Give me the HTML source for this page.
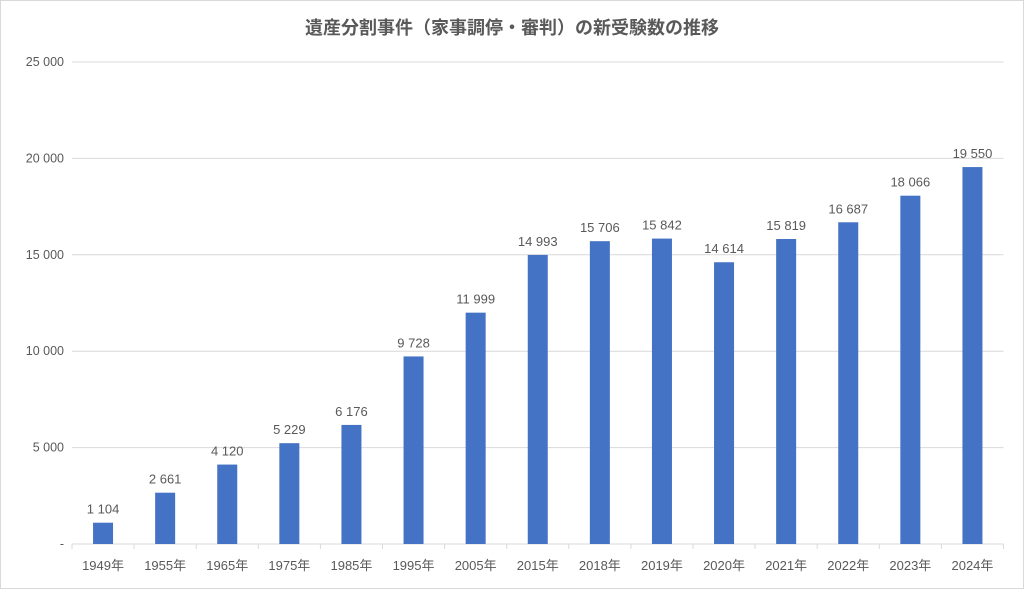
<!DOCTYPE html>
<html><head><meta charset="utf-8"><style>
html,body{margin:0;padding:0;background:#fff}
svg{display:block}
text{font-family:"Liberation Sans","Noto Sans CJK JP",sans-serif;fill:#595959}
</style></head><body>
<svg id="chart" width="1024" height="589" viewBox="0 0 1024 589" xmlns="http://www.w3.org/2000/svg">
<rect x="0.5" y="0.5" width="1023" height="588" fill="#fff" stroke="#d9d9d9"/>
<text x="512" y="34" text-anchor="middle" font-size="18" font-weight="bold">遺産分割事件（家事調停・審判）の新受験数の推移</text>
<g id="grid"></g><g id="bars"></g>
</svg>
<script>
const categories=["1949年","1955年","1965年","1975年","1985年","1995年","2005年","2015年","2018年","2019年","2020年","2021年","2022年","2023年","2024年"];
const values=[1104,2661,4120,5229,6176,9728,11999,14993,15706,15842,14614,15819,16687,18066,19550];
const yTicks=[0,5000,10000,15000,20000,25000];
const yTickLabels=["-","5 000","10 000","15 000","20 000","25 000"];
const ns="http://www.w3.org/2000/svg";
const x0=72,x1=1003.5,y0=544,yTop=62,yMax=25000;
const band=(x1-x0)/categories.length;
const yS=v=>y0-(v/yMax)*(y0-yTop);
const xC=i=>x0+band*(i+0.5);
const fmt=v=>String(v).replace(/\B(?=(\d{3})+(?!\d))/g," ");
const grid=document.getElementById("grid"),bars=document.getElementById("bars");
function mk(tag,attrs,parent,txt){const e=document.createElementNS(ns,tag);for(const k in attrs)e.setAttribute(k,attrs[k]);if(txt!==undefined)e.textContent=txt;parent.appendChild(e);return e;}
yTicks.forEach((t,i)=>{
  const y=yS(t);
  const l=mk("line",{x1:x0,x2:x1,y1:y,y2:y,stroke:"#d9d9d9","stroke-width":1},grid);
  
  
  const tx=mk("text",{x:64,y:y+4,"text-anchor":"end","font-size":12.5},grid,yTickLabels[i]);
  
  
});
for(let i=0;i<=categories.length;i++){
  const tk=mk("line",{x1:x0+band*i,x2:x0+band*i,y1:y0,y2:y0+5,stroke:"#d9d9d9"},grid);
  
  
}
const bw=20;
categories.forEach((c,i)=>{
  const cx=xC(i),y=yS(values[i]);
  const r=mk("rect",{x:cx-bw/2,y:y,width:bw,height:y0-y,fill:"#4472c4"},bars);
  
  
  const lb=mk("text",{x:cx,y:y-9,"text-anchor":"middle","font-size":13},bars,fmt(values[i]));
  
  
  const xl=mk("text",{x:cx,y:570,"text-anchor":"middle","font-size":13},bars,c);
  
  
});
</script>
</body></html>
